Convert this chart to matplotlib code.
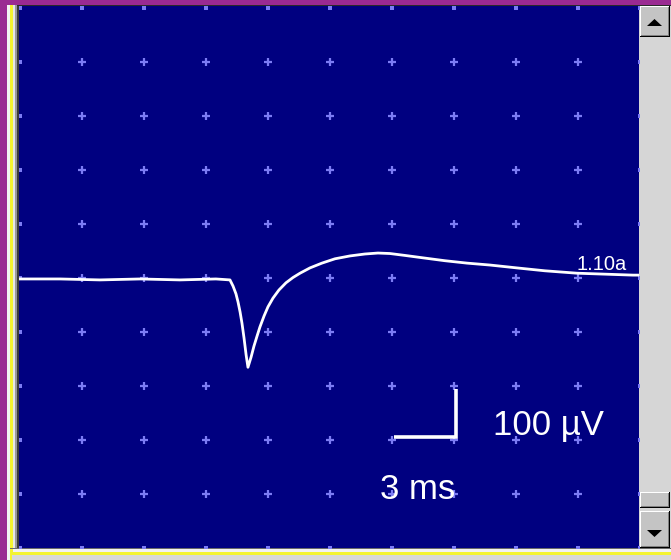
import matplotlib
matplotlib.use("Agg")
import matplotlib.pyplot as plt
from matplotlib.patches import Rectangle, Polygon

# ---- data ----
time_ms = [-0.05, 1.94, 3.87, 5.81, 7.74, 9.48, 10.16, 10.31, 10.45, 10.55, 10.65,
           10.74, 10.84, 10.94, 11.03, 11.18, 11.32, 11.47, 11.61, 11.81, 12.00,
           12.24, 12.53, 12.87, 13.21, 13.55, 14.03, 14.61, 15.24, 15.97, 16.69,
           17.32, 17.90, 18.63, 19.50, 20.56, 21.63, 22.74, 24.05, 25.40, 26.95,
           28.31, 29.66, 29.95]
volt_uv = [-2, -2, -4, -2, -4, -2, -4, -17, -33, -50, -71,
           -94, -125, -160, -186, -165, -142, -121, -102, -79, -60,
           -42, -25, -10, 1, 10, 21, 31, 40, 46, 50,
           52, 51, 47, 42, 36, 31, 27, 21, 15, 10,
           8, 6, 6]
trace_label = "1.10a"
scale_x_ms = 3
scale_y_uv = 100
scale_x_text = "3 ms"
scale_y_text = "100 µV"

# grid: 10 x 10 divisions
div_x = 3.0          # ms per division
div_y = 112.5        # µV per division

W, H = 671, 560
fig = plt.figure(figsize=(W / 100, H / 100), dpi=100)
fig.patch.set_facecolor('#9a2a92')

# ---- window frame (pixel-coordinate overlay) ----
frame = fig.add_axes([0, 0, 1, 1])
frame.set_xlim(0, W)
frame.set_ylim(H, 0)
frame.axis('off')
frame.patch.set_alpha(0)

def rect(x0, y0, x1, y1, c, z=1):
    frame.add_patch(Rectangle((x0, y0), x1 - x0, y1 - y0, facecolor=c, edgecolor='none', zorder=z))

# left bevel
rect(7, 5, 10, H, '#f2f2f2')
rect(10, 5, 13, H, '#f4f430')
rect(13, 5, 15, H, '#e6e6e6')
rect(15, 5, 17, H, '#9a9a9a')
rect(17, 5, 19, 549, '#3a3a3a')
# bottom bevel
rect(10, 548, W, 549, '#6a6a6a', 2)
rect(13, 549, W, 552, '#f2f2f2', 2)
rect(12, 552, W, 555, '#f4f430', 2)
rect(12, 555, W, H, '#d8d8d8', 2)
# top dark line
rect(17, 5, W, 6, '#2a2a2a')
# scrollbar
rect(639, 6, W, 548, '#d6d6d6')
def button(y0, y1):
    rect(640, y0, 670, y1, '#000000', 3)
    rect(640, y0, 669, y1 - 1, '#ffffff', 3)
    rect(641, y0 + 1, 669, y1 - 1, '#808080', 3)
    rect(641, y0 + 1, 668, y1 - 2, '#c4c4c4', 3)
button(6, 37)
button(511, 548)
button(492, 508)
frame.add_patch(Polygon([[647, 26], [662, 26], [654.5, 19]], closed=True, facecolor='black', zorder=4))
frame.add_patch(Polygon([[647, 530], [662, 530], [654.5, 537]], closed=True, facecolor='black', zorder=4))

# ---- scope axes ----
px = 100 / 48.0  # µV per pixel
x_per_px = 3.0 / 62.0
ax = fig.add_axes([19 / W, (H - 548) / H, (639 - 19) / W, (548 - 6) / H])
ax.set_facecolor('#000080')
ax.set_xlim(-1 * x_per_px, 619 * x_per_px)
ax.set_ylim(-270 * px, 272 * px)
for s in ax.spines.values():
    s.set_visible(False)
ax.set_xticks([])
ax.set_yticks([])

# grid crosses
gx, gy, ex, ey = [], [], [], []
for i in range(11):
    for j in range(-5, 6):
        x = i * div_x
        y = j * div_y
        if i in (0, 10) or j in (-5, 5):
            ex.append(x); ey.append(y)
        else:
            gx.append(x); gy.append(y)
ax.plot(gx, gy, linestyle='none', marker='+', markersize=6, mew=1.6, color='#7c7cf4', zorder=1)
ax.plot(ex, ey, linestyle='none', marker='s', markersize=2.2, mew=0, color='#7c7cf4', zorder=1)

# trace
ax.plot(time_ms, volt_uv, color='white', lw=2.0, zorder=3, solid_joinstyle='round')
ax.text(26.95, 16, trace_label, color='white', fontsize=14.5, family='Liberation Sans',
        ha='left', va='baseline', zorder=4)

# scale bar
cx, cy = 21.1, -331
ax.plot([cx - scale_x_ms, cx, cx], [cy, cy, cy + scale_y_uv], color='white', lw=2.6,
        solid_capstyle='butt', solid_joinstyle='miter', zorder=4)
ax.text(22.9, -327, scale_y_text, color='white', fontsize=25, family='Liberation Sans',
        ha='left', va='baseline')
ax.text(17.4, -460, scale_x_text, color='white', fontsize=25, family='Liberation Sans',
        ha='left', va='baseline')

fig.savefig('out.png', dpi=100, facecolor=fig.get_facecolor())
